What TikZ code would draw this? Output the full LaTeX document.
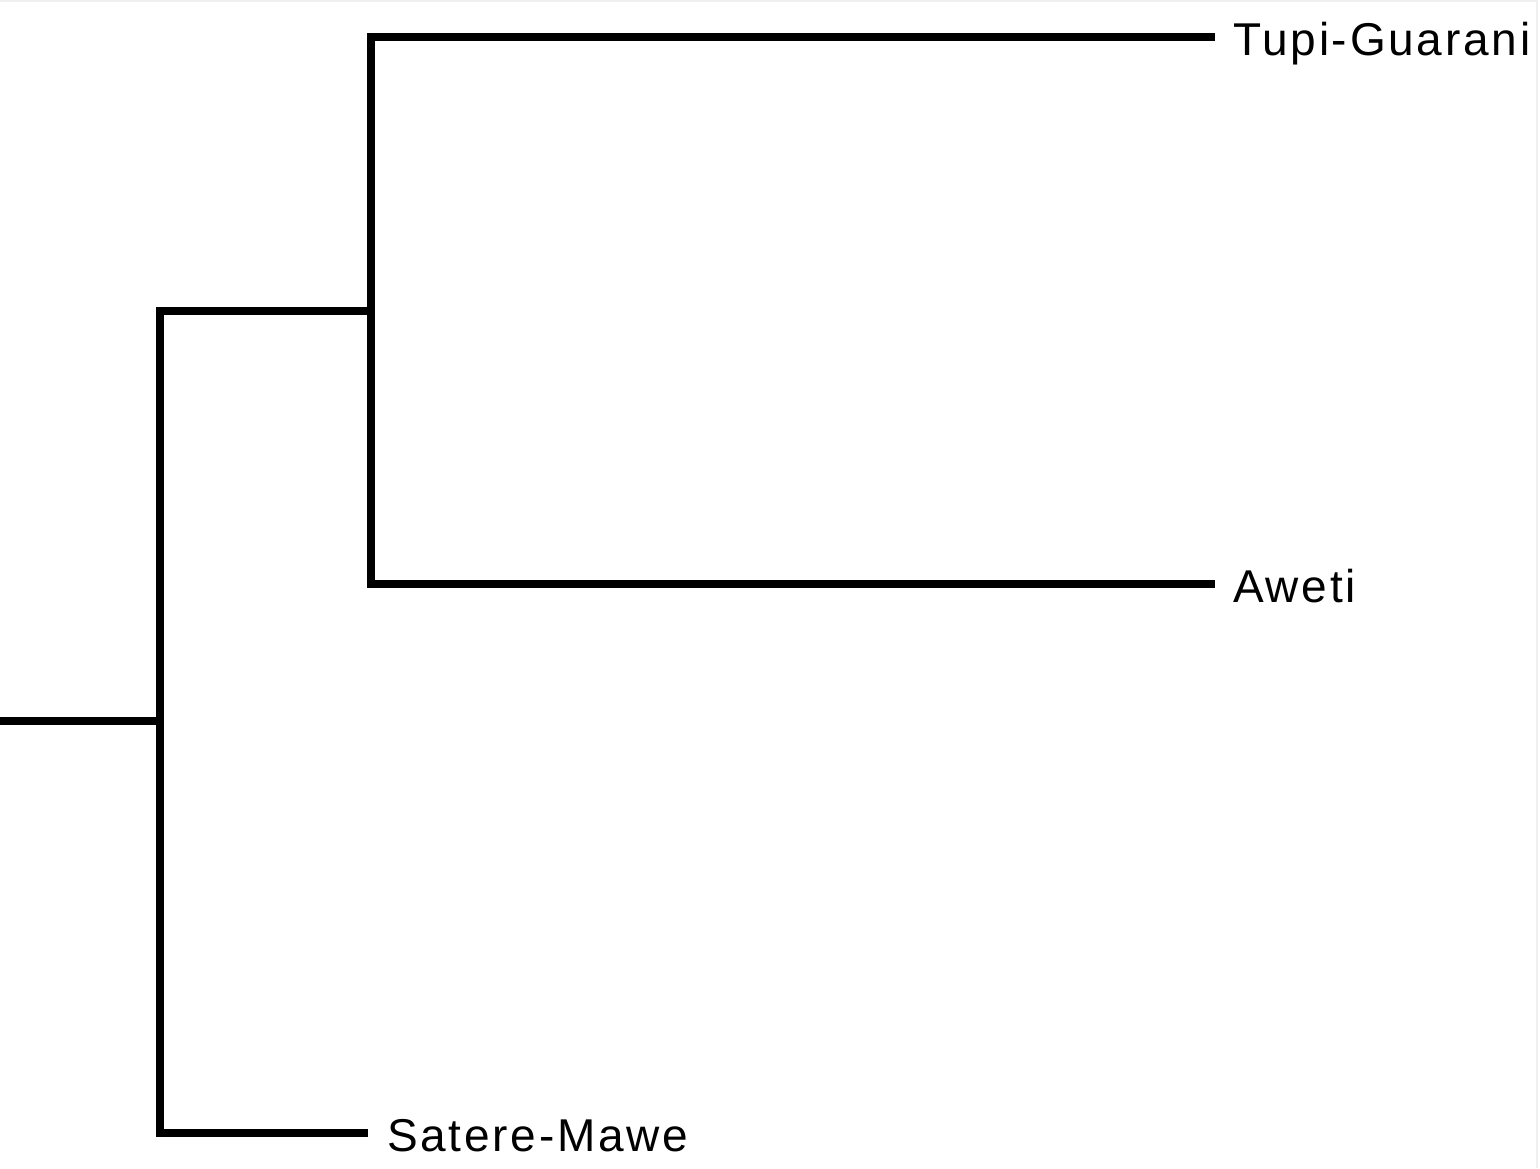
\documentclass[tikz,border=0pt]{standalone}
\usepackage{fontspec}
\setmainfont{Liberation Sans}[LetterSpace=6]
\begin{document}
\begin{tikzpicture}[x=1pt,y=-1pt,
  branch/.style={line width=7.5pt,black,line join=miter,line cap=butt},
  leaf/.style={anchor=base west,inner sep=0pt,font=\fontsize{46}{50}\selectfont}]
\useasboundingbox (0,0) rectangle (1540,1168);
\draw[gray!12,line width=1.5pt] (0,1) -- (1537,1) -- (1537,1168);
% internal points
\coordinate (root) at (0,721);
\coordinate (n1) at (160,721);
\coordinate (n2) at (371,311);
% leaf tips
\coordinate (tTupi) at (1215,37);
\coordinate (tAweti) at (1215,584);
\coordinate (tSatere) at (368,1133);
\node[leaf] (Tupi) at (1233,55) {Tupi-Guarani};
\node[leaf] (Aweti) at (1233,602) {Aweti};
\node[leaf] (Satere) at (387,1151) {Satere-Mawe};
\draw[branch] (root) -- (n1);
\draw[branch] (tTupi) -- (tTupi -| n2) -- (tAweti -| n2) -- (tAweti);
\draw[branch] (n2) -- (n2 -| n1) -- (tSatere -| n1) -- (tSatere);
\end{tikzpicture}
\end{document}
